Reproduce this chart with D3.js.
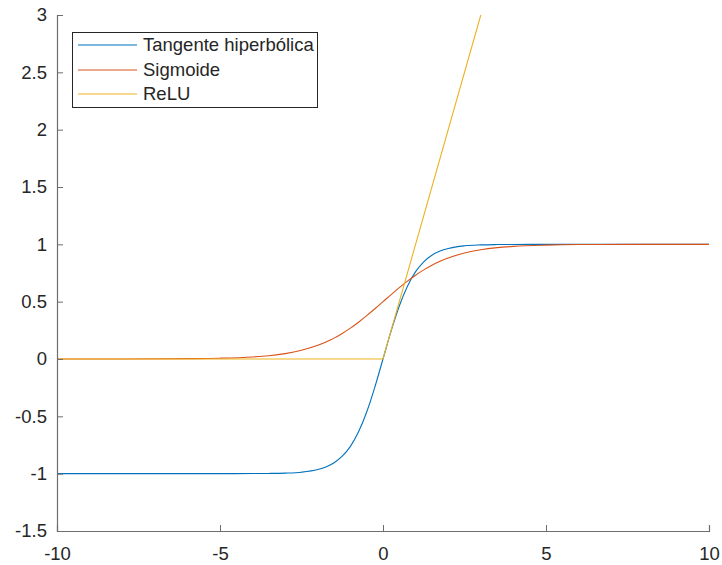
<!DOCTYPE html>
<html>
<head>
<meta charset="utf-8">
<script src="https://cdn.jsdelivr.net/npm/d3@7"></script>
<style>
  body { margin: 0; background: #fff; }
  text { font-family: "Liberation Sans", Arial, sans-serif; fill: #262626; }
</style>
</head>
<body>
<div id="chart"></div>
<script>
// sample points
let xs = [-10, -8, -6, -5, -4, -3.5, -3, -2.5, -2, -1.75, -1.5, -1.25, -1, -0.75, -0.5, -0.25,
  0, 0.25, 0.5, 0.75, 1, 1.25, 1.5, 1.75, 2, 2.5, 3, 3.5, 4, 5, 6, 8, 10]
let tanhVals = [-1, -1, -1, -1, -0.999, -0.998, -0.995, -0.987, -0.964, -0.941, -0.905, -0.848, -0.762, -0.635, -0.462, -0.245,
  0, 0.245, 0.462, 0.635, 0.762, 0.848, 0.905, 0.941, 0.964, 0.987, 0.995, 0.998, 0.999, 1, 1, 1, 1]
let sigmoidVals = [0, 0, 0.003, 0.007, 0.018, 0.029, 0.047, 0.076, 0.119, 0.148, 0.182, 0.223, 0.269, 0.321, 0.378, 0.438,
  0.5, 0.562, 0.622, 0.679, 0.731, 0.777, 0.818, 0.852, 0.881, 0.924, 0.953, 0.971, 0.982, 0.993, 0.998, 1, 1]
let reluX = [-10, 0, 3]
let reluVals = [0, 0, 3]

let seriesNames = ['Tangente hiperbólica', 'Sigmoide', 'ReLU']
let colors = ['#0072BD', '#D95319', '#EDB120']
let xTicks = [-10, -5, 0, 5, 10]
let yTicks = [-1.5, -1, -0.5, 0, 0.5, 1, 1.5, 2, 2.5, 3]

let width = 722, height = 565
let plotLeft = 57, plotRight = 709, plotTop = 15, plotBottom = 531

let svg = d3.select('#chart').append('svg')
  .attr('width', width)
  .attr('height', height)

let x = d3.scaleLinear().domain([-10, 10]).range([plotLeft, plotRight])
let y = d3.scaleLinear().domain([-1.5, 3]).range([plotBottom, plotTop])

svg.append('clipPath').attr('id', 'clip')
  .append('rect')
  .attr('x', plotLeft).attr('y', plotTop)
  .attr('width', plotRight - plotLeft).attr('height', plotBottom - plotTop)

let series = [
  xs.map((d, i) => [d, tanhVals[i]]),
  xs.map((d, i) => [d, sigmoidVals[i]]),
  reluX.map((d, i) => [d, reluVals[i]])
]

let smooth = d3.line().x(d => x(d[0])).y(d => y(d[1])).curve(d3.curveMonotoneX)
let straight = d3.line().x(d => x(d[0])).y(d => y(d[1]))

let plot = svg.append('g').attr('clip-path', 'url(#clip)')
series.forEach((s, i) => {
  plot.append('path')
    .attr('d', i == 2 ? straight(s) : smooth(s))
    .attr('fill', 'none')
    .attr('stroke', colors[i])
    .attr('stroke-width', 1.1)
})

// axes, MATLAB style: ticks pointing inward, no box
let fmt = d => String(d)
let xAxis = svg.append('g')
  .attr('transform', `translate(0,${plotBottom})`)
  .call(d3.axisBottom(x).tickValues(xTicks).tickSize(-6).tickPadding(16).tickFormat(fmt))
let yAxis = svg.append('g')
  .attr('transform', `translate(${plotLeft},0)`)
  .call(d3.axisLeft(y).tickValues(yTicks).tickSize(-6).tickPadding(10).tickFormat(fmt))

;[xAxis, yAxis].forEach(a => {
  a.select('.domain').attr('stroke', '#6e6e6e').attr('stroke-width', 1.2)
  a.selectAll('.tick line').attr('stroke', '#6e6e6e')
  a.selectAll('.tick text').attr('font-size', 18.5).attr('fill', '#262626')
    .style('font-family', '"Liberation Sans", Arial, sans-serif')
})

// legend
let legend = svg.append('g')
legend.append('rect')
  .attr('x', 72.5).attr('y', 32.5)
  .attr('width', 245).attr('height', 75)
  .attr('fill', '#fff')
  .attr('stroke', '#262626')
  .attr('stroke-width', 1)

seriesNames.forEach((name, i) => {
  let yy = [45, 70, 94][i]
  legend.append('line')
    .attr('x1', 78).attr('x2', 137)
    .attr('y1', yy).attr('y2', yy)
    .attr('stroke', colors[i])
    .attr('stroke-width', 1.2)
  legend.append('text')
    .attr('x', 143).attr('y', yy)
    .attr('dy', '0.35em')
    .attr('font-size', 18.5)
    .text(name)
})
</script>
</body>
</html>
